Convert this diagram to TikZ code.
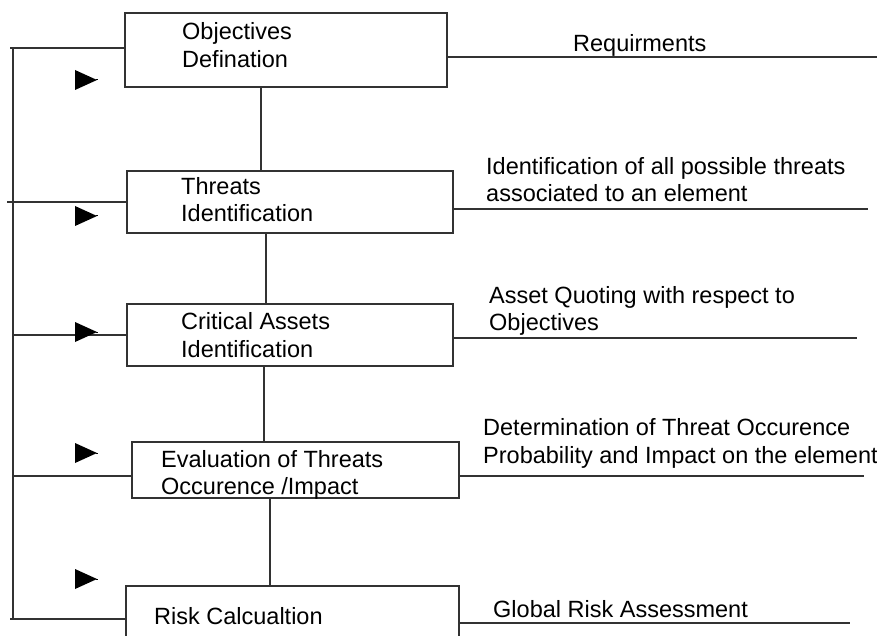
\documentclass[tikz,border=0pt]{standalone}
\usepackage{fontspec}
\setmainfont{Liberation Sans}
\definecolor{ln}{RGB}{50,50,50}
\begin{document}
\begin{tikzpicture}[x=1pt,y=-1pt,
  box/.style={draw=ln, line width=1.5pt, rectangle, inner sep=0pt, outer sep=0pt, anchor=north west},
  conn/.style={draw=ln, line width=1.5pt},
  txt/.style={anchor=base west, inner sep=0pt, font=\fontsize{23.5}{28}\selectfont},
  tri/.style={fill=black}]
\useasboundingbox (0,0) rectangle (877,636);
\clip (0,0) rectangle (877,636);
% boxes
\node[box, minimum width=322pt, minimum height=74pt] (b1) at (125,13) {};
\node[box, minimum width=326pt, minimum height=62pt] (b2) at (127,171) {};
\node[box, minimum width=326pt, minimum height=62pt] (b3) at (127,304) {};
\node[box, minimum width=327pt, minimum height=56pt] (b4) at (132,442) {};
\node[box, minimum width=333pt, minimum height=74pt] (b5) at (126,586) {};
% box texts
\node[txt] (t1a) at (182,40) {Objectives};
\node[txt] (t1b) at (182,68) {Defination};
\node[txt] (t2a) at (181,195) {Threats};
\node[txt] (t2b) at (181,222) {Identification};
\node[txt] (t3a) at (181,329) {Critical Assets};
\node[txt] (t3b) at (181,357) {Identification};
\node[txt] (t4a) at (161,467) {Evaluation of Threats};
\node[txt] (t4b) at (161,494) {Occurence /Impact};
\node[txt] (t5) at (154,624) {Risk Calcualtion};
% right texts
\node[txt] (r1t) at (573,52) {Requirments};
\node[txt] (r2a) at (486,175) {Identification of all possible threats};
\node[txt] (r2b) at (486,202) {associated to an element};
\node[txt] (r3a) at (489,303) {Asset Quoting with respect to};
\node[txt] (r3b) at (489,330) {Objectives};
\node[txt] (r4a) at (483,435) {Determination of Threat Occurence};
\node[txt] (r4b) at (483,463) {Probability and Impact on the element};
\node[txt] (r5t) at (493,617) {Global Risk Assessment};
% vertical connectors between boxes
\draw[conn] ([xshift=136pt]b1.south west) -- ([xshift=134pt]b2.north west);
\draw[conn] ([xshift=139pt]b2.south west) -- ([xshift=139pt]b3.north west);
\draw[conn] ([xshift=137pt]b3.south west) -- ([xshift=132pt]b4.north west);
\draw[conn] ([xshift=138pt]b4.south west) -- ([xshift=144pt]b5.north west);
% left bus
\coordinate (bt) at (13,48);
\coordinate (bb) at (13,619);
\draw[conn] (bt) -- (bb);
\coordinate (l1) at (10,48);
\coordinate (l2) at (7,202);
\coordinate (l3) at (13,335);
\coordinate (l4) at (13,476);
\coordinate (l5) at (10,619);
\draw[conn] (l1) -- (l1 -| b1.west);
\draw[conn] (l2) -- (l2 -| b2.west);
\draw[conn] (l3) -- (l3 -| b3.west);
\draw[conn] (l4) -- (l4 -| b4.west);
\draw[conn] (l5) -- (l5 -| b5.west);
% right lines
\coordinate (e1) at (877,57);
\coordinate (e2) at (868,209);
\coordinate (e3) at (857,338);
\coordinate (e4) at (864,476);
\coordinate (e5) at (850,623);
\draw[conn] (e1 -| b1.east) -- (e1);
\draw[conn] (e2 -| b2.east) -- (e2);
\draw[conn] (e3 -| b3.east) -- (e3);
\draw[conn] (e4 -| b4.east) -- (e4);
\draw[conn] (e5 -| b5.east) -- (e5);
% triangles
\foreach \yy in {80,216,332,453,579} {
  \fill[tri] (75,\yy-10) -- (97,\yy) -- (75,\yy+10) -- cycle;
  \draw[line width=1pt] (96,\yy) -- (98,\yy);
}
\end{tikzpicture}
\end{document}
